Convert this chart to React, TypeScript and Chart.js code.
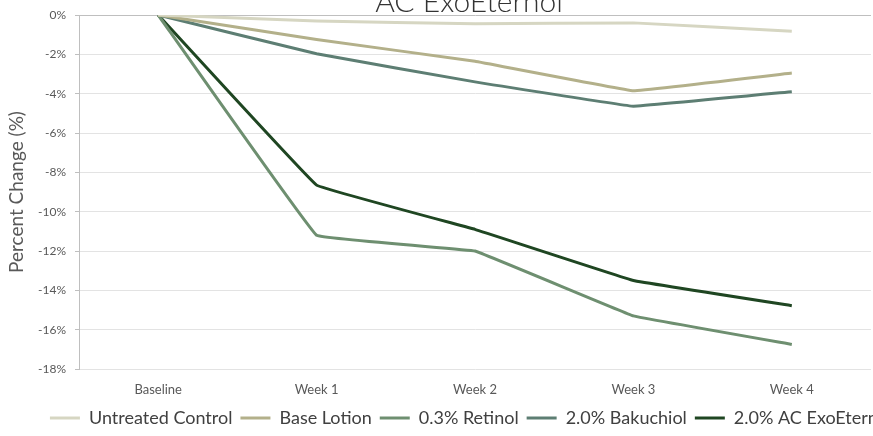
import React, { useEffect, useRef } from "react";
import { Chart, registerables } from "chart.js";

Chart.register(...registerables);

const categories = ["Baseline", "Week 1", "Week 2", "Week 3", "Week 4"];
const untreatedControl = [0, -0.3, -0.45, -0.4, -0.82];
const baseLotion = [0, -1.25, -2.35, -3.85, -2.95];
const retinol = [0, -11.2, -12.0, -15.3, -16.75];
const bakuchiol = [0, -1.97, -3.4, -4.64, -3.9];
const exoEterno = [0, -8.65, -10.9, -13.5, -14.78];
const seriesNames = ["Untreated Control", "Base Lotion", "0.3% Retinol", "2.0% Bakuchiol", "2.0% AC ExoEterno"];
const seriesColors = ["#d6d6c2", "#b3b08a", "#6e8f70", "#5d7e73", "#1f4622"];
const titleText = "AC ExoEternol";
const yAxisTitle = "Percent Change (%)";

const FONT = "Lato, 'Open Sans', sans-serif";

export default function App() {
  const ref = useRef<HTMLCanvasElement | null>(null);

  useEffect(() => {
    if (!ref.current) return;
    const values = [untreatedControl, baseLotion, retinol, bakuchiol, exoEterno];
    const chart = new Chart(ref.current, {
      type: "line",
      data: {
        labels: categories,
        datasets: values.map((v, i) => ({
          label: seriesNames[i],
          data: v,
          borderColor: seriesColors[i],
          backgroundColor: seriesColors[i],
          borderWidth: 3,
          pointRadius: 0,
          pointHoverRadius: 0,
          tension: 0.04,
          fill: false,
        })),
      },
      options: {
        responsive: false,
        animation: false,
        layout: { padding: 0 },
        plugins: {
          tooltip: { enabled: false },
          title: {
            display: true,
            text: titleText,
            color: "#333333",
            font: { family: FONT, size: 30, weight: "300", lineHeight: 0.867 },
            padding: { top: 0, bottom: 0 },
          },
          legend: {
            display: true,
            position: "bottom",
            labels: {
              usePointStyle: true,
              pointStyle: "line",
              pointStyleWidth: 30,
              padding: 8,
              color: "#404040",
              font: { family: FONT, size: 18 },
            },
          },
        },
        scales: {
          x: {
            type: "category",
            offset: true,
            grid: { display: false, drawTicks: false },
            border: { display: false },
            ticks: { color: "#595959", font: { family: FONT, size: 13 }, padding: 13 },
            afterFit: (s: any) => {
              s.height = 32;
            },
          },
          y: {
            min: -18,
            max: 0,
            position: "left",
            ticks: {
              stepSize: 2,
              color: "#595959",
              font: { family: FONT, size: 12 },
              padding: 9,
              callback: (v: any) => `${v}%`,
            },
            grid: {
              color: (c: any) => (c.tick && c.tick.value === 0 ? "#bfbfbf" : "#e3e3e3"),
              tickColor: "#bfbfbf",
              tickLength: 4,
              lineWidth: 1,
            },
            border: { display: true, color: "#bfbfbf" },
            title: {
              display: true,
              text: yAxisTitle,
              color: "#595959",
              font: { family: FONT, size: 19 },
              padding: { top: 5, bottom: 0 },
            },
            afterFit: (s: any) => {
              s.width = 79;
            },
          },
          yRight: {
            position: "right",
            display: true,
            grid: { display: false, drawTicks: false },
            border: { display: false },
            ticks: { display: false },
            afterFit: (s: any) => {
              s.width = 67;
            },
          },
        },
      },
    } as any);
    return () => chart.destroy();
  }, []);

  return (
    <div
      style={{
        position: "fixed",
        left: 0,
        top: 0,
        width: 873,
        height: 436,
        overflow: "hidden",
        background: "#ffffff",
      }}
    >
      <canvas
        ref={ref}
        width={938}
        height={448}
        style={{ position: "absolute", left: 0, top: -11, width: 938, height: 448 }}
      />
    </div>
  );
}
